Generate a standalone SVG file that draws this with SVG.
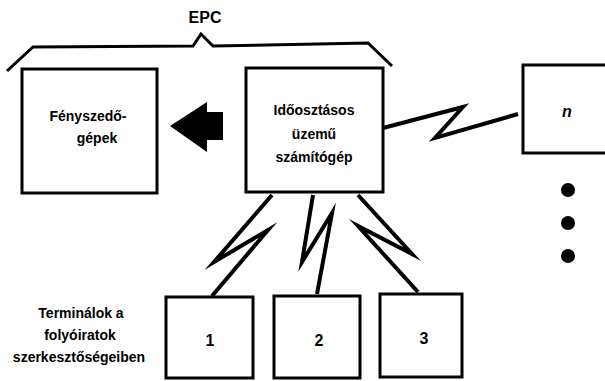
<svg xmlns="http://www.w3.org/2000/svg" width="605" height="381" viewBox="0 0 605 381">
<style>
.box{fill:#fff;stroke:#000;stroke-width:3}
.t{font-family:"Liberation Sans",Arial,sans-serif;font-weight:bold;font-size:14px;fill:#000;text-anchor:middle}
.num{font-size:16px}
.link{fill:none;stroke:#000;stroke-width:4;stroke-linejoin:miter;stroke-miterlimit:10;stroke-linecap:butt}
</style>
<rect width="605" height="381" fill="#fff"/>
<g id="epc">
<path d="M7,71 L33,47 L193,46 L201,34 L213,46 L368,43 L392,66" fill="none" stroke="#000" stroke-width="3"/>
<text x="205" y="23" class="t" style="font-size:16px">EPC</text>
</g>
<g id="connectors">
<polygon points="170,126 207,102 207,112 223,112 223,140 207,140 207,152" fill="#000"/>
<polyline class="link" points="383,128 463,107 435,138 518,114"/>
<polyline class="link" points="272,195 214,262 268,230 212,296"/>
<polyline class="link" points="313,195 302,262 332,213 317,294"/>
<polyline class="link" points="358,195 412,254 358,226 418,292"/>
</g>
<g id="fenyszedo">
<rect class="box" x="22" y="69" width="135" height="124"/>
<text class="t" x="88" y="121">Fényszedő-</text>
<text class="t" x="97" y="143">gépek</text>
</g>
<g id="szamitogep">
<rect class="box" x="246" y="68" width="137" height="124"/>
<text class="t" x="314" y="115">Időosztásos</text>
<text class="t" x="314" y="139">üzemű</text>
<text class="t" x="314" y="162">számítógép</text>
</g>
<g id="node-n">
<rect class="box" x="523" y="65" width="90" height="88"/>
<text class="t num" x="567" y="117" style="font-style:italic">n</text>
</g>
<g id="dots">
<circle cx="568" cy="190" r="7"/>
<circle cx="568" cy="223" r="7"/>
<circle cx="568" cy="256" r="7"/>
</g>
<g id="term-label">
<text class="t" x="81" y="318">Terminálok a</text>
<text class="t" x="80" y="340">folyóiratok</text>
<text class="t" x="79" y="362">szerkesztőségeiben</text>
</g>
<g id="t1">
<rect class="box" x="166" y="297" width="87" height="81"/>
<text class="t num" x="210" y="346">1</text>
</g>
<g id="t2">
<rect class="box" x="274" y="296" width="86" height="82"/>
<text class="t num" x="319" y="346">2</text>
</g>
<g id="t3">
<rect class="box" x="380" y="294" width="82" height="83"/>
<text class="t num" x="424" y="344">3</text>
</g>
</svg>
